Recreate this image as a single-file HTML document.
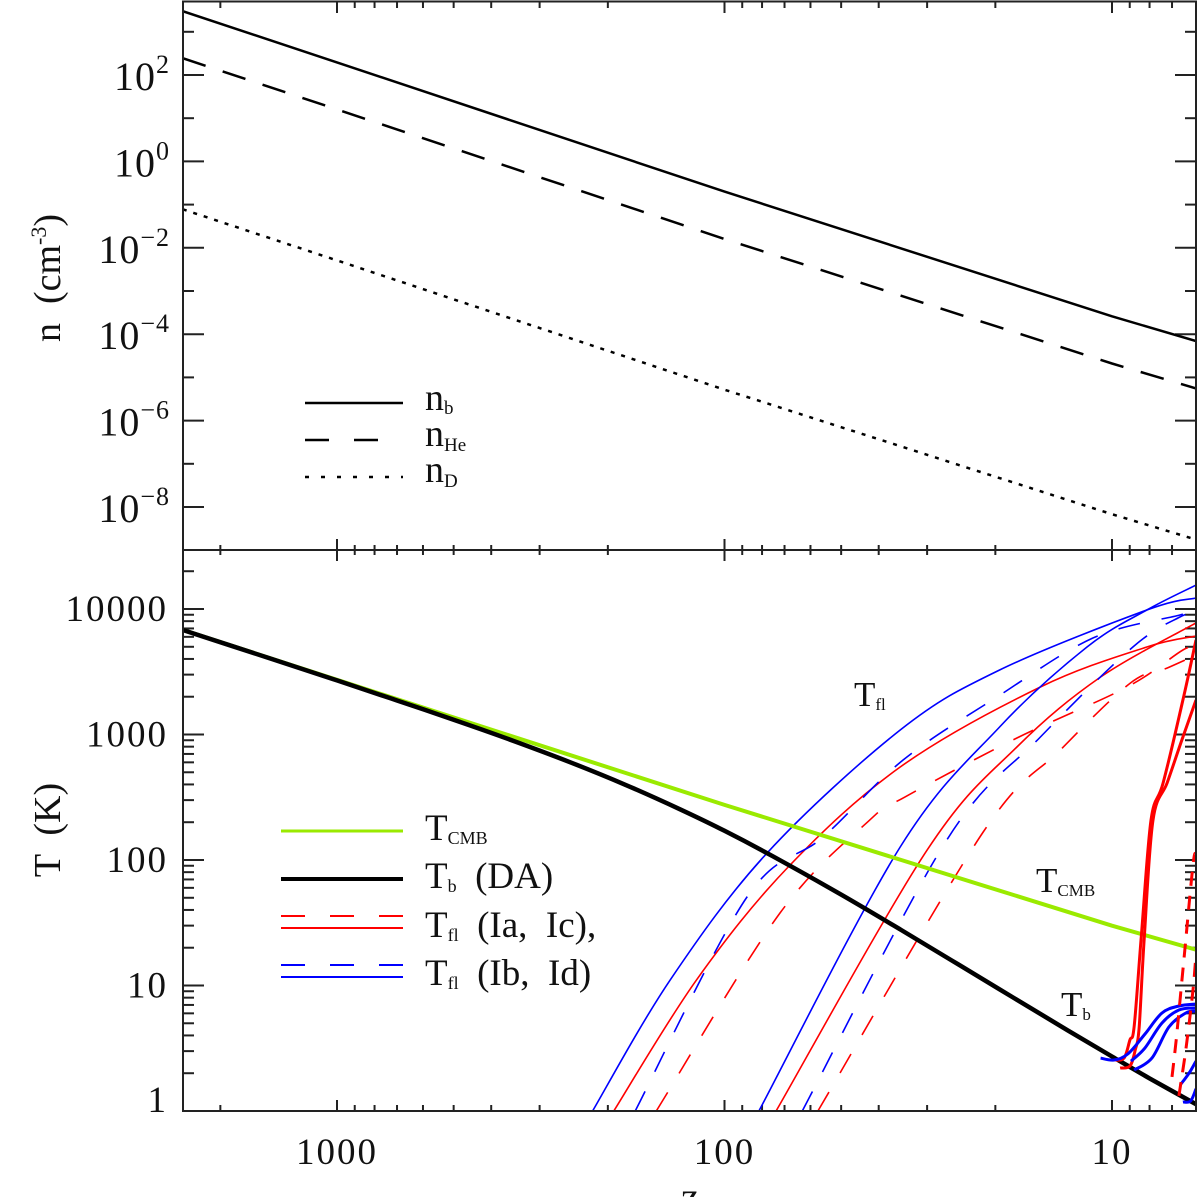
<!DOCTYPE html>
<html><head><meta charset="utf-8"><style>
html,body{margin:0;padding:0;background:#fff;}
svg{display:block;font-family:"Liberation Serif",serif;}
</style></head><body>
<svg id="chart" width="1200" height="1197" viewBox="0 0 1200 1197" xmlns="http://www.w3.org/2000/svg">
<defs>
<clipPath id="clipTop"><rect x="183" y="2" width="1013" height="548"/></clipPath>
<clipPath id="clipBot"><rect x="183" y="550" width="1013" height="561"/></clipPath>
</defs>
<g id="ticks"></g>
<g id="topLines" clip-path="url(#clipTop)"></g>
<g id="botLines" clip-path="url(#clipBot)"></g>
<rect x="183" y="1.5" width="1013" height="1109.5" fill="none" stroke="#222" stroke-width="2"/>
<line x1="183" y1="550" x2="1196" y2="550" stroke="#222" stroke-width="2"/>
<g id="labels" font-size="37" fill="#111"></g>

<g font-size="38" fill="#111">
  <line x1="305" y1="403" x2="403" y2="403" stroke="#000" stroke-width="2.5"/>
  <text x="425" y="410">n<tspan font-size="19" dy="4">b</tspan></text>
  <line x1="305" y1="440" x2="403" y2="440" stroke="#000" stroke-width="2.5" stroke-dasharray="24 25"/>
  <text x="425" y="446">n<tspan font-size="19" dy="5">He</tspan></text>
  <line x1="305" y1="477" x2="403" y2="477" stroke="#000" stroke-width="2.5" stroke-dasharray="4 12"/>
  <text x="425" y="482">n<tspan font-size="19" dy="5">D</tspan></text>
</g>

<g font-size="37" fill="#111">
  <line x1="281" y1="831" x2="403" y2="831" stroke="#9aea00" stroke-width="3"/>
  <text x="425" y="840">T<tspan font-size="18" dy="4">CMB</tspan></text>
  <line x1="281" y1="879" x2="403" y2="879" stroke="#000" stroke-width="4"/>
  <text x="425" y="888">T<tspan font-size="18" dy="4">b</tspan><tspan dy="-4" xml:space="preserve">  (DA)</tspan></text>
  <line x1="281" y1="916" x2="403" y2="916" stroke="#f00" stroke-width="2" stroke-dasharray="24 25"/>
  <line x1="281" y1="928" x2="403" y2="928" stroke="#f00" stroke-width="2"/>
  <text x="425" y="937">T<tspan font-size="18" dy="4">fl</tspan><tspan dy="-4" xml:space="preserve">  (Ia,  Ic),</tspan></text>
  <line x1="281" y1="965" x2="403" y2="965" stroke="#00f" stroke-width="2" stroke-dasharray="24 25"/>
  <line x1="281" y1="977" x2="403" y2="977" stroke="#00f" stroke-width="2"/>
  <text x="425" y="985">T<tspan font-size="18" dy="4">fl</tspan><tspan dy="-4" xml:space="preserve">  (Ib,  Id)</tspan></text>
</g>

<g font-size="35" fill="#111">
  <text x="854" y="706">T<tspan font-size="17" dy="4">fl</tspan></text>
  <text x="1036" y="892">T<tspan font-size="17" dy="4">CMB</tspan></text>
  <text x="1061" y="1016">T<tspan font-size="17" dy="4">b</tspan></text>
</g>

<text font-size="38" fill="#111" text-anchor="middle" transform="translate(60,278) rotate(-90)" xml:space="preserve">n  (cm<tspan font-size="22" dy="-14">-3</tspan><tspan dy="14">)</tspan></text>
<text font-size="38" fill="#111" text-anchor="middle" transform="translate(60,830) rotate(-90)" xml:space="preserve">T  (K)</text>
<text font-size="40" fill="#111" text-anchor="middle" x="690" y="1210">z</text>
</svg>
<script>
// ---- top panel data ----
const zTop = [2500, 1000, 100, 10, 6];
const nB = [3000, 196, 0.2, 2.6e-4, 6.7e-5];
const nHe = [245, 16, 0.016, 2.1e-5, 5.4e-6];
const nD = [0.078, 5.1e-3, 5.2e-6, 6.8e-9, 1.7e-9];
// ---- bottom panel data ----
const zCMB = [2500, 1000, 100, 10, 6];
const tCMB = [6815, 2728, 275, 29.98, 19.08];
const zTb = [2500,1500,1000,700,500,350,250,180,130,100,75,50,35,25,18,13,10,8,6];
const tTb = [6800,4066,2696,1867,1310,887,600,397,253,171,107,53,27.7,14.8,8.03,4.39,2.72,1.82,1.11];
// thin T_fl curves (left group)
const zBlueA = [219,138,77.6,35.2,19.5,8.13,6.07];
const tBlueA = [1,11.1,114,1086,3266,9820,12240];
const zRedA = [193,118,68.5,35.2,15.3,8.13,6.07];
const tRedA = [1,11.1,88,551,2390,4980,6090];
const zBlueDA = [170,87.5,55.7,34.6,19.8,11.2,6.68,6.07];
const tBlueDA = [1,50.7,152,626,1990,5870,8960,9820];
const zRedDA = [150,71.9,42.2,34.2,17.6,9.14,6.56,6.07];
const tRedDA = [1,37.8,208,318,938,2390,4710,4890];
// thin T_fl curves (right group)
const zBlueB = [81.5,35.2,19.5,11.6,8.13,6.07];
const tBlueB = [1,127,1148,4980,9820,15500];
const zRedB = [73.6,30,17.6,10.7,6.07];
const tRedB = [1,120,795,2870,7730];
const zBlueDB = [63,26.7,15.3,8.83,6.68,6.07];
const tBlueDB = [1,144,955,4980,8630,9300];
const zRedDB = [57.4,21.5,13.6,8.97,7.2,6.07];
const tRedDB = [1,167,752,2570,3390,4300];
// thick late-heating curves
const zR1 = [9.89,9.31,8.99,8.77,8.41,7.93,7.38,6.56,6.07];
const tR1 = [2.55,2.64,3.68,4.67,23.5,208,411,1884,5660];
const zR2 = [9.53,8.99,8.71,8.51,8.26,7.84,7.21,6.60,6.07];
const tR2 = [2.20,2.28,3.06,4.67,23.5,208,411,906,1884];
const zB1 = [10.7,9.89,9.10,8.22,7.43,6.72,6.07];
const tB1 = [2.64,2.55,2.85,4.11,6.04,6.87,7.12];
const zB2 = [8.93,8.22,7.43,6.72,6.07];
const tB2 = [2.50,3.18,5.03,6.38,6.63];
const zB3 = [8.77,7.89,7.13,6.45,6.07];
const tB3 = [2.12,2.64,4.67,6.04,6.26];
const zB4 = [6.67,6.32,6.07];
const tB4 = [1.61,2.01,2.50];
const zB5 = [6.56,6.27,6.07];
const tB5 = [1.18,1.20,1.50];
const zRD1 = [7.0,6.83,6.56,6.18,6.07];
const tRD1 = [1.87,3.68,13.3,91.3,110];
const zRD2 = [6.72,6.45,6.18,6.07];
const tRD2 = [1.32,3.06,9.2,17.8];

const NS = "http://www.w3.org/2000/svg";
const X = z => 724.5 - (Math.log10(z) - 2) * 387.5;
const Y1 = n => 75 - (Math.log10(n) - 2) * 43.2;
const Y2 = t => 1111 - Math.log10(t) * 125.5;

function smoothPath(pts){
  if(pts.length<3){return "M"+pts.map(p=>p[0].toFixed(1)+","+p[1].toFixed(1)).join(" L");}
  let d="M"+pts[0][0].toFixed(1)+","+pts[0][1].toFixed(1);
  for(let i=0;i<pts.length-1;i++){
    const p0=pts[Math.max(i-1,0)],p1=pts[i],p2=pts[i+1],p3=pts[Math.min(i+2,pts.length-1)];
    const c1=[p1[0]+(p2[0]-p0[0])/6,p1[1]+(p2[1]-p0[1])/6];
    const c2=[p2[0]-(p3[0]-p1[0])/6,p2[1]-(p3[1]-p1[1])/6];
    d+=" C"+c1[0].toFixed(1)+","+c1[1].toFixed(1)+" "+c2[0].toFixed(1)+","+c2[1].toFixed(1)+" "+p2[0].toFixed(1)+","+p2[1].toFixed(1);
  }
  return d;
}
function addPath(parent, zs, vs, yf, stroke, width, dash, name, smooth){
  const pts = zs.map((z,i)=>[X(z), yf(vs[i])]);
  const p = document.createElementNS(NS,"path");
  p.setAttribute("d", smooth ? smoothPath(pts) : "M"+pts.map(q=>q[0].toFixed(1)+","+q[1].toFixed(1)).join(" L"));
  p.setAttribute("fill","none");
  p.setAttribute("stroke",stroke);
  p.setAttribute("stroke-width",width);
  p.setAttribute("stroke-linejoin","round");
  if(dash) p.setAttribute("stroke-dasharray",dash);
  
  
  parent.appendChild(p);
}
const topG = document.getElementById("topLines");
addPath(topG, zTop, nB, Y1, "#000", 2.5, null, "line-nb", false);
addPath(topG, zTop, nHe, Y1, "#000", 2.5, "24 18", "line-nhe", false);
addPath(topG, zTop, nD, Y1, "#000", 2.5, "4 7", "line-nd", false);

const botG = document.getElementById("botLines");
const RC="#ff0000", BC="#0000ff";
addPath(botG, zBlueA, tBlueA, Y2, BC, 1.6, null, "tfl-ib-left", true);
addPath(botG, zRedA, tRedA, Y2, RC, 1.6, null, "tfl-ia-left", true);
addPath(botG, zBlueDA, tBlueDA, Y2, BC, 1.6, "22 22", "tfl-ib-dashed-left", true);
addPath(botG, zRedDA, tRedDA, Y2, RC, 1.6, "22 22", "tfl-ia-dashed-left", true);
addPath(botG, zBlueB, tBlueB, Y2, BC, 1.6, null, "tfl-id-right", true);
addPath(botG, zRedB, tRedB, Y2, RC, 1.6, null, "tfl-ic-right", true);
addPath(botG, zBlueDB, tBlueDB, Y2, BC, 1.6, "22 22", "tfl-id-dashed-right", true);
addPath(botG, zRedDB, tRedDB, Y2, RC, 1.6, "22 22", "tfl-ic-dashed-right", true);
addPath(botG, zCMB, tCMB, Y2, "#9aea00", 4, null, "line-tcmb", false);
addPath(botG, zTb, tTb, Y2, "#000", 4.5, null, "line-tb", true);
addPath(botG, zR1, tR1, Y2, RC, 3, null, "tfl-late-red-1", true);
addPath(botG, zR2, tR2, Y2, RC, 3, null, "tfl-late-red-2", true);
addPath(botG, zB1, tB1, Y2, BC, 3, null, "tfl-late-blue-1", true);
addPath(botG, zB2, tB2, Y2, BC, 3, null, "tfl-late-blue-2", true);
addPath(botG, zB3, tB3, Y2, BC, 3, null, "tfl-late-blue-3", true);
addPath(botG, zB4, tB4, Y2, BC, 3, null, "tfl-late-blue-4", true);
addPath(botG, zB5, tB5, Y2, BC, 3, null, "tfl-late-blue-5", true);
addPath(botG, zRD1, tRD1, Y2, RC, 3, "14 10", "tfl-late-red-dashed-1", true);
addPath(botG, zRD2, tRD2, Y2, RC, 3, "14 10", "tfl-late-red-dashed-2", true);

// ---- ticks ----
const tg = document.getElementById("ticks");
function tick(x1,y1,x2,y2){
  const l=document.createElementNS(NS,"line");
  l.setAttribute("x1",x1);l.setAttribute("y1",y1);l.setAttribute("x2",x2);l.setAttribute("y2",y2);
  l.setAttribute("stroke","#222");l.setAttribute("stroke-width","2");
  
  
  tg.appendChild(l);
}
for(let d=0; d<=3; d++){
  for(let m=1;m<=9;m++){
    const z=m*Math.pow(10,d); const x=X(z);
    if(x<184||x>1195) continue;
    const maj = m===1;
    tick(x,2,x,2+(maj?11:6));
    tick(x,550-(maj?11:5),x,550+(maj?11:5));
    tick(x,1111,x,1111-(maj?11:6));
  }
}
for(let e=-10;e<=3;e++){
  const y=Y1(Math.pow(10,e)); if(y<3||y>549) continue;
  const len = (e%2===0)?21:11;
  tick(183,y,183+len,y); tick(1196,y,1196-len,y);
}
for(let d=0; d<=4; d++){
  for(let m=1;m<=9;m++){
    const y=Y2(m*Math.pow(10,d)); if(y<551||y>1111) continue;
    const len = m===1?21:11;
    tick(183,y,183+len,y); tick(1196,y,1196-len,y);
  }
}
// ---- labels ----
const lg=document.getElementById("labels");
const xTickVals=[1000,100,10];
const xTickText=["1000","100","10"];
xTickVals.forEach((v,i)=>{
  const t=document.createElementNS(NS,"text");
  t.setAttribute("x",X(v)); t.setAttribute("y",1164); t.setAttribute("text-anchor","middle");
  t.setAttribute("letter-spacing","2");
  t.textContent=xTickText[i];
  
  
  lg.appendChild(t);
});
const tTickVals=[10000,1000,100,10,1];
const tTickText=["10000","1000","100","10","1"];
tTickVals.forEach((v,i)=>{
  const t=document.createElementNS(NS,"text");
  t.setAttribute("x",168); t.setAttribute("y",v===1?1112:Y2(v)+12); t.setAttribute("text-anchor","end");
  t.setAttribute("letter-spacing","2");
  t.textContent=tTickText[i];
  
  
  lg.appendChild(t);
});
const nExp=[2,0,-2,-4,-6,-8];
nExp.forEach(e=>{
  const t=document.createElementNS(NS,"text");
  t.setAttribute("x",170); t.setAttribute("y",Y1(Math.pow(10,e))+15); t.setAttribute("text-anchor","end");
  t.setAttribute("letter-spacing","1");
  t.setAttribute("font-size","40");
  t.innerHTML='10<tspan font-size="26" dy="-17">'+(e<0?'\u2212':'')+Math.abs(e)+'</tspan>';
  
  
  lg.appendChild(t);
});
</script>
</body></html>
